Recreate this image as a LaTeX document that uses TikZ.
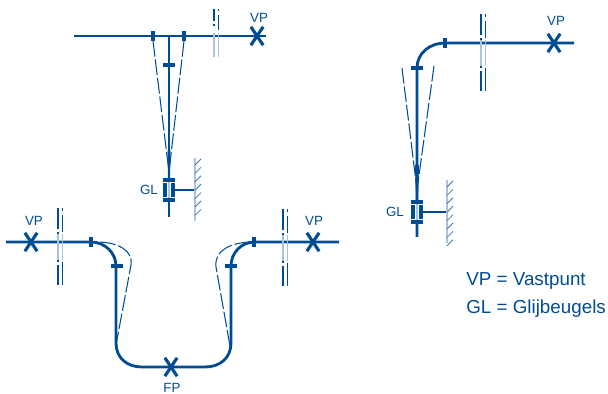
\documentclass[tikz,border=0pt]{standalone}
\usepackage{fontspec}
\setmainfont{Liberation Sans}
\usetikzlibrary{shapes.misc}
\definecolor{pipeblue}{RGB}{0,76,148}
\definecolor{paleblue}{RGB}{170,195,224}
\tikzset{
	pipe/.style={draw=pipeblue,line width=1.6pt},
	tick/.style={draw=pipeblue,line width=2pt},
	swing/.style={draw=pipeblue,line width=0.6pt,dash pattern=on 9pt off 1.6pt},
	breakline/.style={draw=pipeblue,line width=0.6pt},
	breakpale/.style={draw=paleblue,line width=1pt},
	vastpunt/.style={cross out,draw=pipeblue,line width=1.8pt,minimum width=7pt,minimum height=10.5pt,inner sep=0pt,outer sep=0pt},
	label/.style={text=pipeblue,font=\fontsize{7.6}{9}\selectfont,inner sep=0pt},
	legend/.style={text=pipeblue,font=\fontsize{10.7}{12}\selectfont,inner sep=0pt,anchor=west}
}
\begin{document}
\begin{tikzpicture}[x=0.02cm,y=-0.02cm]
	\useasboundingbox (0,0) rectangle (608,394);
	% pipes
	\coordinate (a1) at (74,36);
	\coordinate (a2) at (266,36);
	\coordinate (a3) at (169,36);
	\coordinate (a4) at (169,217);
	\draw[pipe] (a1) -- (a2);
	\draw[pipe] (a3) -- (a4);
	\coordinate (b1) at (6,242);
	\coordinate (b2) at (339,242);
	\draw[pipe] (b1) -- (91,242) .. controls (105,242) and (116,253) .. (116,266)
		-- (116,343) .. controls (116,358) and (127,367) .. (142,367) -- (205,367)
		.. controls (220,367) and (231,358) .. (231,343) -- (231,266)
		.. controls (231,253) and (241,242) .. (255,242) -- (b2);
	\coordinate (c1) at (574,43);
	\coordinate (c2) at (417,237);
	\draw[pipe] (c1) -- (445,43) .. controls (430,43) and (417,53) .. (417,68) -- (c2);
	% swing of the pipe
	\draw[swing] (153,41) -- (169,172);
	\draw[swing] (184,41) -- (169,172);
	\draw[swing] (402,68) -- (417,190);
	\draw[swing] (434,66) -- (417,190);
	\draw[swing] (100,242) .. controls (118,243) and (133,250) .. (131,265) -- (116,345);
	\draw[swing] (250,242) .. controls (231,243) and (214,250) .. (216,267) -- (230,346);
	\fill[pipeblue] (167.5,150) -- (170.5,150) -- (170,180) -- (168,180) -- cycle;
	\fill[pipeblue] (415,165) -- (419,165) -- (418,200) -- (416,200) -- cycle;
	% ticks on the pipe
	\foreach \x/\y in {153/36,184/36,91/242,254/242,445/43}
		\draw[tick] (\x,\y-5) -- (\x,\y+5);
	\foreach \x/\y in {169/65,117/266,231/266,417/68}
		\draw[tick] (\x-6,\y) -- (\x+6,\y);
	% breaks
	\foreach \x/\y in {58/208,283/209,481/14}{
		\draw[breakpale] (\x,\y+26) -- (\x,\y+52);
		\draw[breakpale] (\x+4.5,\y+26) -- (\x+4.5,\y+52);
		\draw[breakline] (\x,\y) -- (\x,\y+21) (\x,\y+24) -- (\x,\y+26);
		\draw[breakline] (\x,\y+52) -- (\x,\y+54) (\x,\y+57) -- (\x,\y+77);
		\draw[breakline] (\x+4.5,\y) -- (\x+4.5,\y+3) (\x+4.5,\y+7) -- (\x+4.5,\y+24);
		\draw[breakline] (\x+4.5,\y+54) -- (\x+4.5,\y+77);
	}
	\draw[breakpale] (214,33) -- (214,57);
	\draw[breakpale] (218.5,33) -- (218.5,57);
	\draw[breakline] (214,9) -- (214,21) (214,24) -- (214,26);
	\draw[breakline] (218.5,9) -- (218.5,11) (218.5,15) -- (218.5,30);
	% glijbeugels and wall
	\foreach \x/\y/\w/\n in {169/190/195/6,417/212/447/7}{
		\fill[white] (\x-7,\y-9) rectangle (\x+7,\y+9);
		\draw[breakpale] (\x,\y-9) -- (\x,\y+9);
		\draw[tick] (\x-6,\y-10) -- (\x+6,\y-10);
		\draw[tick] (\x-6,\y+10) -- (\x+6,\y+10);
		\draw[tick] (\x-4,\y-7) -- (\x-4,\y+7);
		\draw[tick] (\x+4,\y-7) -- (\x+4,\y+7);
		\draw[pipe] (\x+5,\y) -- (\w,\y);
		\draw[breakpale] (\w,\y-32) -- (\w,\y+31);
		\foreach \k in {0,...,\n}
			\draw[pipeblue!75,line width=0.45pt] (\w,\y-25+\k*8.4) -- (\w+6,\y-31+\k*8.4);
	}
	% vastpunten
	\node[vastpunt] (vp1) at (257,36) {};
	\node[vastpunt] (vp2) at (31,242) {};
	\node[vastpunt] (vp3) at (313,242) {};
	\node[vastpunt] (vp4) at (554,43) {};
	\node[vastpunt] (fp) at (171,367) {};
	% labels
	\node[label] (vp1text) at (259,18) {VP};
	\node[label] (vp2text) at (34,221) {VP};
	\node[label] (vp3text) at (314,221) {VP};
	\node[label] (vp4text) at (556,21) {VP};
	\node[label] (fptext) at (172,388) {FP};
	\node[label] (gl1text) at (149,190) {GL};
	\node[label] (gl2text) at (395,212) {GL};
	\node[legend] (vptext) at (466,281) {VP = Vastpunt};
	\node[legend] (gltext) at (466,309) {GL = Glijbeugels};
\end{tikzpicture}
\end{document}
